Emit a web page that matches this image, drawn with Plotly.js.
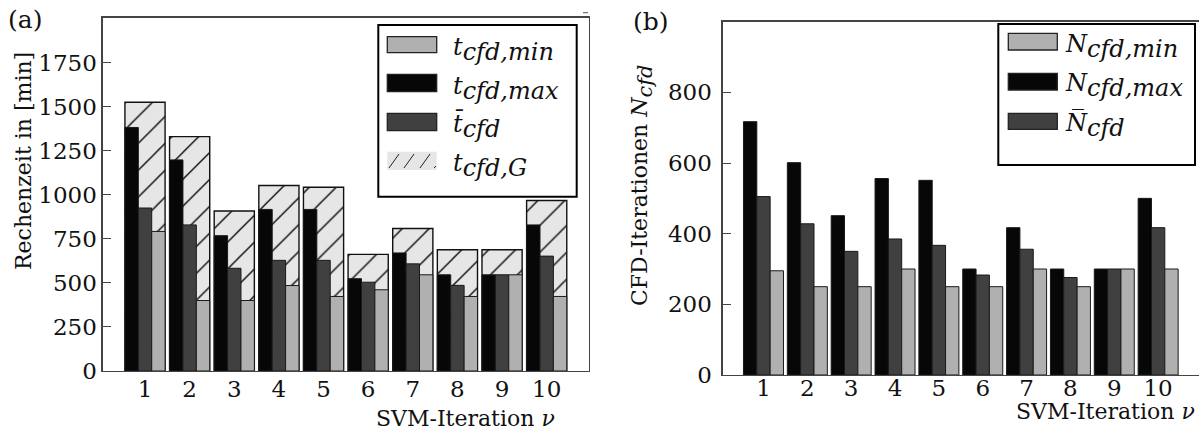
<!DOCTYPE html>
<html>
<head>
<meta charset="utf-8">
<script src="https://cdn.plot.ly/plotly-3.0.1.min.js"></script>
<style>html,body{margin:0;padding:0;overflow:hidden;background:#fff}</style>
</head>
<body>
<div id="chart" style="width:1199px;height:430px"></div>
<script>
// ---------- data ----------
const iterations = [1, 2, 3, 4, 5, 6, 7, 8, 9, 10];
const iterationLabels = ['1', '2', '3', '4', '5', '6', '7', '8', '9', '10'];

// (a) Rechenzeit in [min]
const tCfdMin  = [792, 400, 400, 485, 423, 461, 546, 423, 546, 423];
const tCfdMax  = [1382, 1198, 768, 917, 917, 524, 670, 546, 546, 829];
const tCfdMean = [925, 829, 583, 628, 628, 504, 608, 486, 546, 652];
const tCfdG    = [1525, 1330, 908, 1053, 1043, 662, 809, 688, 688, 968];
const timeTicks = [0, 250, 500, 750, 1000, 1250, 1500, 1750];

// (b) CFD-Iterationen
const nCfdMin  = [295, 250, 250, 300, 250, 250, 300, 250, 300, 300];
const nCfdMax  = [717, 601, 451, 556, 551, 300, 417, 300, 300, 500];
const nCfdMean = [505, 428, 350, 385, 367, 283, 356, 276, 300, 417];
const iterTicks = [0, 200, 400, 600, 800];

// ---------- helpers ----------
const W = 1199, H = 430;
const px = x => x / W;
const py = y => 1 - y / H;

const C_MIN = '#b0b0b0', C_MAX = '#070707', C_MEAN = '#404040', C_G = '#e6e6e6';
const EDGE = {color: '#1a1a1a', width: 1};
const FONT = 'DejaVu Serif';

function bar(x, y, ax, ay, color, width, offset, extra) {
  return Object.assign({
    type: 'bar', x: x, y: y, xaxis: ax, yaxis: ay,
    width: width, offset: offset,
    marker: {color: color, line: EDGE},
    hoverinfo: 'x+y'
  }, extra || {});
}

const wa = 0.3, wb = 0.304;
const traces = [
  bar(iterations, tCfdG, 'x', 'y', C_G, 3 * wa, -1.5 * wa, {
    marker: {color: C_G, line: {color: '#111', width: 1.4},
      pattern: {shape: '/', size: 19, solidity: 0.07, fgcolor: '#000', bgcolor: C_G, fillmode: 'replace'}}
  }),
  bar(iterations, tCfdMax, 'x', 'y', C_MAX, wa, -1.5 * wa),
  bar(iterations, tCfdMean, 'x', 'y', C_MEAN, wa, -0.5 * wa),
  bar(iterations, tCfdMin, 'x', 'y', C_MIN, wa, 0.5 * wa),
  bar(iterations, nCfdMax, 'x2', 'y2', C_MAX, wb, -1.5 * wb),
  bar(iterations, nCfdMean, 'x2', 'y2', C_MEAN, wb, -0.5 * wb),
  bar(iterations, nCfdMin, 'x2', 'y2', C_MIN, wb, 0.5 * wb)
];

const axisCommon = {
  showline: true, linecolor: '#444', linewidth: 1.3,
  showgrid: false, zeroline: false, fixedrange: true,
  tickfont: {family: FONT, size: 23, color: '#111'}
};

const layout = {
  width: W, height: H,
  margin: {l: 0, r: 0, t: 0, b: 0},
  paper_bgcolor: '#fff', plot_bgcolor: '#fff',
  barmode: 'overlay', showlegend: false,
  font: {family: FONT, size: 22, color: '#111'},
  xaxis: Object.assign({}, axisCommon, {
    domain: [px(102.7), px(588.6)], range: [0.052, 10.939],
    tickvals: iterations, ticktext: iterationLabels, ticks: '',
    mirror: true, anchor: 'y', ticklabelstandoff: -3
  }),
  yaxis: Object.assign({}, axisCommon, {
    domain: [1 - 371 / H, 1 - 17.7 / H], range: [0, 2005],
    tickvals: timeTicks, ticks: 'inside', ticklen: 8, tickcolor: '#444', tickwidth: 1,
    mirror: true, anchor: 'x', ticklabelstandoff: 0
  }),
  xaxis2: Object.assign({}, axisCommon, {
    domain: [px(722.7), 1], range: [0.07, 10.932],
    tickvals: iterations, ticktext: iterationLabels, ticks: '',
    mirror: true, anchor: 'y2', ticklabelstandoff: -8
  }),
  yaxis2: Object.assign({}, axisCommon, {
    domain: [1 - 375 / H, 1 - 21.7 / H], range: [0, 1000],
    tickvals: iterTicks, ticks: 'inside', ticklen: 8, tickcolor: '#444', tickwidth: 1,
    mirror: false, anchor: 'x2', ticklabelstandoff: 5
  }),
  shapes: [],
  annotations: []
};

const S = layout.shapes, A = layout.annotations;
function rect(x0, y0, x1, y1, fill, line) {
  S.push({type: 'rect', xref: 'paper', yref: 'paper', x0: px(x0), x1: px(x1), y0: py(y0), y1: py(y1),
    fillcolor: fill, line: line || {width: 0}, layer: 'above'});
}
function seg(x0, y0, x1, y1, color, width) {
  S.push({type: 'line', xref: 'paper', yref: 'paper', x0: px(x0), x1: px(x1), y0: py(y0), y1: py(y1),
    line: {color: color, width: width}, layer: 'above'});
}
function text(t, x, y, opts) {
  A.push(Object.assign({text: t, xref: 'paper', yref: 'paper', x: px(x), y: py(y), showarrow: false,
    xanchor: 'center', yanchor: 'middle', font: {family: FONT, size: 22, color: '#111'}}, opts || {}));
}
const sub = (s, fs) => '<sub><span style="font-size:' + (fs || 19) + 'px">' + s + '</span></sub>';
const LEG = {font: {family: FONT, size: 24, color: '#111'}, xanchor: 'left'};

// legend (a)
rect(378.3, 25, 576.7, 196.7, '#fff', {color: '#000', width: 2});
rect(387.3, 36.7, 436.7, 52.7, C_MIN, {color: '#222', width: 1.3});
rect(387.3, 74.3, 436.7, 91.7, C_MAX, {color: '#222', width: 1.3});
rect(387.3, 113.3, 436.7, 130.7, C_MEAN, {color: '#222', width: 1.3});
rect(387.3, 151.7, 436.7, 170, C_G);
[389, 404, 420].forEach(x0 => seg(x0, 168, x0 + 10, 154, '#222', 1));
seg(434, 168, 436, 166, '#222', 1);
const la = [['<i>t</i>' + sub('<i>cfd,min</i>', 24), 49], ['<i>t</i>' + sub('<i>cfd,max</i>', 24), 88],
            ['<i>t\u0304</i>' + sub('<i>cfd</i>', 24), 126], ['<i>t</i>' + sub('<i>cfd,G</i>', 24), 165]];
la.forEach(e => text(e[0], 451, e[1], LEG));

// legend (b)
rect(998.3, 24, 1195, 165, '#fff', {color: '#000', width: 2});
rect(1008.3, 33.3, 1057.3, 50, C_MIN, {color: '#222', width: 1.3});
rect(1008.3, 73.3, 1057.3, 90, C_MAX, {color: '#222', width: 1.3});
rect(1008.3, 113.3, 1057.3, 129.3, C_MEAN, {color: '#222', width: 1.3});
const lb = [['<i>N</i>' + sub('<i>cfd,min</i>', 24), 46], ['<i>N</i>' + sub('<i>cfd,max</i>', 24), 86],
            ['<i>N\u0305</i>' + sub('<i>cfd</i>', 24), 125]];
lb.forEach(e => text(e[0], 1063, e[1], LEG));

// panel labels, axis titles
text('(a)', 25, 20, {font: {family: FONT, size: 25, color: '#111'}});
text('(b)', 651, 21, {font: {family: FONT, size: 25, color: '#111'}});
text('Rechenzeit in [min]', 23, 161, {textangle: -90});
text('CFD-Iterationen <i>N</i>' + sub('<i>cfd</i>', 21), 642, 186, {textangle: -90});
text('SVM-Iteration <i>\u03BD</i>', 557, 418, {xanchor: 'right'});
text('SVM-Iteration <i>\u03BD</i>', 1197, 411, {xanchor: 'right'});
seg(583, 12.7, 588, 12.7, '#555', 1);

Plotly.newPlot('chart', traces, layout, {displayModeBar: false, staticPlot: true});
</script>
</body>
</html>
